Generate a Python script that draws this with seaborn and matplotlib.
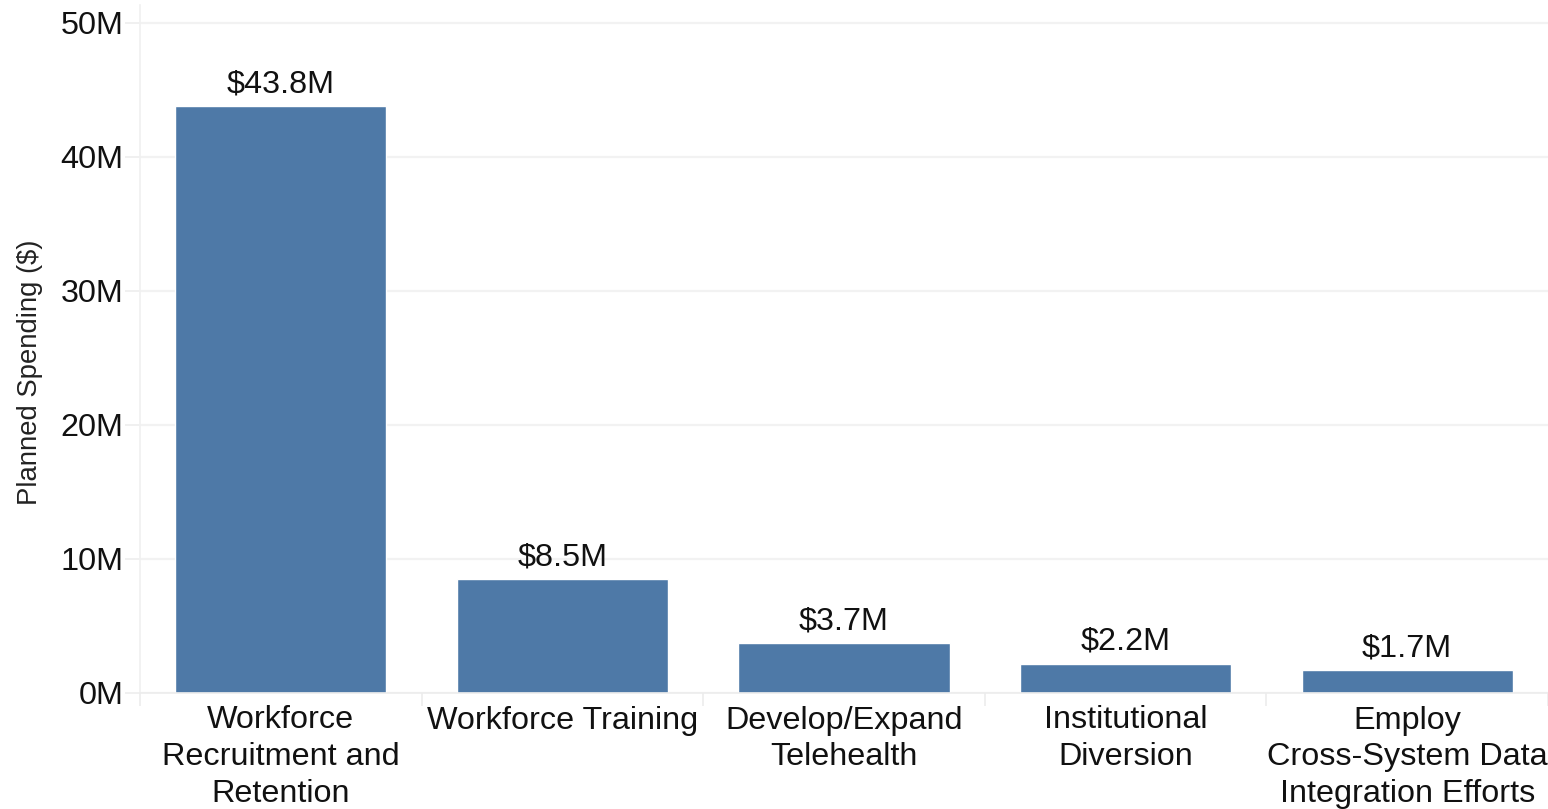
import matplotlib
matplotlib.use("Agg")
import matplotlib.pyplot as plt
import seaborn as sns
import pandas as pd
from matplotlib.ticker import FuncFormatter, FixedLocator

categories = [
    "Workforce\nRecruitment and\nRetention",
    "Workforce Training",
    "Develop/Expand\nTelehealth",
    "Institutional\nDiversion",
    "Employ\nCross-System Data\nIntegration Efforts",
]
spending_m = [43.8, 8.5, 3.7, 2.2, 1.7]
value_labels = ["$43.8M", "$8.5M", "$3.7M", "$2.2M", "$1.7M"]
y_ticks_m = [0, 10, 20, 30, 40, 50]

df = pd.DataFrame({"category": categories, "spending": spending_m})

sns.set_theme(style="white")
plt.rcParams["font.family"] = ["Liberation Sans", "DejaVu Sans"]

fig = plt.figure(figsize=(15.48, 8.09), dpi=100)
ax = fig.add_axes([140 / 1548, 116 / 809, 1408 / 1548, 688 / 809])

bar_color = "#4E79A7"
sns.barplot(data=df, x="category", y="spending", color=bar_color,
            width=0.75, saturation=1, ax=ax)

ax.set_xlim(-0.5, len(categories) - 0.5)
ax.set_ylim(0, 51.34)

grid_col = "#ececec"
ax.yaxis.set_major_locator(FixedLocator(y_ticks_m))
ax.yaxis.set_major_formatter(FuncFormatter(lambda v, p: f"{v:.0f}M"))
ax.grid(axis="y", color="#f2f2f2", linewidth=1.6)
ax.set_axisbelow(True)

for side in ["top", "right"]:
    ax.spines[side].set_visible(False)
ax.spines["left"].set_color("#f0f0f0")
ax.spines["bottom"].set_color(grid_col)
ax.spines["left"].set_linewidth(1.2)
ax.spines["bottom"].set_linewidth(1.2)

ax.tick_params(axis="y", which="major", length=11, width=1.4, color="#f0f0f0",
               labelsize=23.3, labelcolor="#111111", pad=1, left=True)
ax.tick_params(axis="x", which="major", length=0, labelsize=23.3,
               labelcolor="#111111", pad=9)
for lbl in ax.get_xticklabels():
    lbl.set_linespacing(1.3)

# separators between categories on the bottom axis
ax.set_xticks([i - 0.5 for i in range(len(categories) + 1)], minor=True)
ax.tick_params(axis="x", which="minor", length=9, width=1.2, color=grid_col, bottom=True)

ax.set_xlabel("")
ax.set_ylabel("Planned Spending ($)", fontsize=19.8, color="#222222")
ax.yaxis.set_label_coords(-97 / 1408, 0.466)

for i, (v, lab) in enumerate(zip(spending_m, value_labels)):
    ax.annotate(lab, xy=(i, v), xytext=(0, 10), textcoords="offset points",
                ha="center", va="baseline", fontsize=23.3, color="#111111")

fig.savefig("out.png", dpi=100, facecolor="white")
